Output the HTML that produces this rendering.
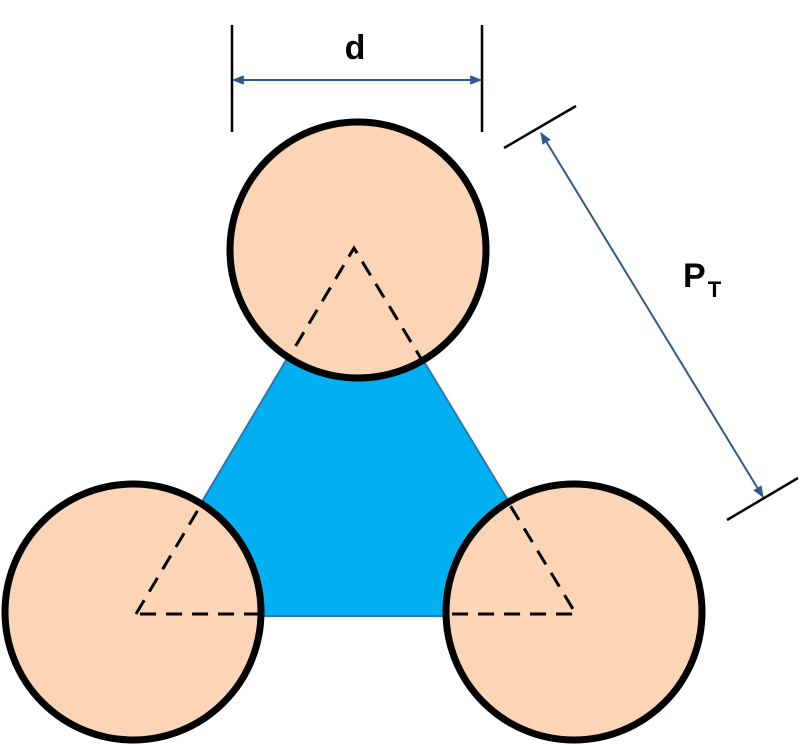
<!DOCTYPE html>
<html><head><meta charset="utf-8"><style>html,body{margin:0;padding:0;background:#fff}svg{display:block}</style></head>
<body>
<svg width="800" height="745" viewBox="0 0 800 745" xmlns="http://www.w3.org/2000/svg">
<defs>
<marker id="a" viewBox="0 0 10 10" refX="9" refY="5" markerWidth="12" markerHeight="12" orient="auto-start-reverse" markerUnits="userSpaceOnUse">
<path d="M0,1 L10,5 L0,9 z" fill="#2F5A8C"/></marker>
<clipPath id="c">
<circle cx="358" cy="250" r="126"/>
<circle cx="133" cy="612" r="126"/>
<circle cx="574" cy="612" r="126"/>
</clipPath>
</defs>
<polygon points="354,246 134,616 578,616" fill="#00B0F0" stroke="#2E75B6" stroke-width="2"/>
<g fill="#FBD5B5" stroke="#000" stroke-width="7">
<circle cx="358" cy="250" r="128"/>
<circle cx="133" cy="612" r="128"/>
<circle cx="574" cy="612" r="128"/>
</g>
<polyline clip-path="url(#c)" points="136,614 354,248 576,614 136,614" fill="none" stroke="#000" stroke-width="3" stroke-dasharray="16,10"/>
<g stroke="#000" stroke-width="2.5">
<line x1="232" y1="25" x2="232" y2="132"/>
<line x1="482" y1="25" x2="482" y2="132"/>
<line x1="504" y1="148" x2="576" y2="106"/>
<line x1="727" y1="520" x2="798" y2="478"/>
</g>
<g stroke="#2F5A8C" stroke-width="2" marker-start="url(#a)" marker-end="url(#a)">
<line x1="233" y1="80" x2="481" y2="80"/>
<line x1="541" y1="133" x2="763" y2="497"/>
</g>
<text x="355" y="59" font-family="Liberation Sans, sans-serif" font-weight="bold" font-size="34" text-anchor="middle">d</text>
<text x="683" y="287" font-family="Liberation Sans, sans-serif" font-weight="bold" font-size="34">P<tspan font-size="22" dy="10" dx="2">T</tspan></text>
</svg>
</body></html>
